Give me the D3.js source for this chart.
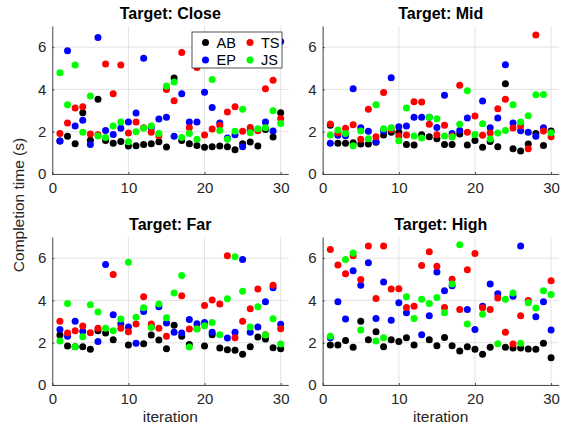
<!DOCTYPE html>
<html>
<head>
<meta charset="utf-8">
<script src="https://d3js.org/d3.v7.min.js"></script>
<style>
body {margin:0; background:white;}
svg {font-family:"Liberation Sans", Arial, sans-serif;}
</style>
</head>
<body>
<svg id="chart" width="570" height="429"></svg>
<script>
// iteration 1..30, completion time in seconds (null = point not visible)
var iterations = d3.range(1, 31);
var seriesNames = ["AB", "EP", "TS", "JS"];
var seriesColors = ["#000000", "#0000ff", "#ff0000", "#00ff00"];
var panelTitles = ["Target: Close", "Target: Mid", "Target: Far", "Target: High"];
var xTicks = [0, 10, 20, 30];
var yTicks = [0, 2, 4, 6];

var closeAB = [1.56, 1.78, 1.43, 2.9, 1.6, 3.53, 1.59, 1.45, 1.54, 1.32, 1.34, 1.4, 1.43, 1.53, 1.28, 4.54, 1.59, 1.43, 1.35, 1.26, 1.29, 1.32, 1.29, 1.15, 1.43, 1.51, 1.32, 2.11, 1.75, 2.9];
var closeEP = [1.56, 5.83, 2.27, 2.54, 1.39, 6.46, 2.06, 1.87, 2.16, 2.46, 2.88, 5.48, 2.19, 2.6, 2.68, 1.78, 3.8, 2.46, 2.46, 3.87, 3.15, 2.41, 1.7, 1.86, 1.29, 2.1, null, 2.46, 2.03, 6.27];
var closeTS = [1.92, 2.41, 3.12, 3.18, 1.89, 1.86, 5.2, 3.8, 5.15, 1.94, 2.46, 2.19, 1.98, 1.81, 4.0, 3.46, 5.75, 2.19, 5.04, 1.84, 2.13, 2.3, 2.93, 3.18, 2.02, 2.2, 2.05, 4.03, 4.43, 2.63];
var closeJS = [4.79, 3.28, 5.15, 1.97, 3.69, 1.8, 1.73, 2.27, 2.46, 1.53, 2.0, 2.16, 2.27, 1.92, 4.16, 4.35, 1.73, 1.92, 1.64, null, 4.47, 2.06, 1.64, 2.02, 3.06, 1.95, 2.14, 2.19, 2.99, 2.39];

var midAB = [2.3, 1.45, 1.45, 1.48, 1.42, 1.42, 1.5, 1.84, 1.98, 1.97, 1.4, 1.37, 1.86, 1.76, 1.67, 1.39, 1.4, 1.89, 1.37, 1.59, 1.26, 1.54, 1.29, 4.27, 1.2, 1.09, 1.42, 1.91, 1.35, 2.03];
var midEP = [1.45, 1.83, 1.81, 4.03, 2.19, 2.02, 1.53, 2.05, 4.55, 2.24, 2.27, 2.69, 2.69, 2.68, 2.2, 3.73, 1.91, 2.06, 2.65, null, 3.45, 2.19, 2.65, 5.17, 2.41, 2.05, 1.98, 1.78, 2.19, null];
var midTS = [2.36, 1.94, 2.16, 2.33, 1.64, 3.06, 1.76, 3.86, 2.11, 1.8, 1.84, 3.42, 3.4, 2.35, 1.86, 2.31, 1.8, 4.2, 1.98, 2.74, 1.83, 1.94, 3.09, 3.54, 2.17, 2.28, 1.2, 6.58, 2.03, 1.76];
var midJS = [1.84, 2.08, 1.92, 1.34, 2.03, 1.67, 3.28, 2.14, 2.19, 1.57, 3.12, 1.8, 1.7, 2.69, 2.61, 1.8, 1.75, 2.35, 3.94, 1.87, 2.38, 1.65, 1.94, 2.06, 3.28, 2.46, 2.76, 3.75, 3.76, 1.95];

var farAB = [2.36, 1.84, 1.81, 1.81, 1.69, 2.57, 2.46, 2.14, null, 1.89, null, 1.95, 2.36, 2.13, 1.72, 2.83, 2.31, 1.91, null, 1.84, 2.38, 1.75, 1.67, 1.64, 1.46, 1.81, 2.27, 2.17, 1.76, 1.72];
var farEP = [2.63, 2.31, 3.02, 2.54, null, 2.06, 5.7, 3.32, 2.9, 2.74, 1.97, 3.48, 2.79, 3.7, 2.93, 2.5, 2.46, 3.1, 2.9, 2.96, 2.49, null, 2.22, 2.5, 5.94, 2.5, 2.74, 3.94, 4.6, 2.87];
var farTS = [3.02, 2.46, 2.57, 2.79, 2.47, 2.69, null, 5.23, 2.69, 2.52, 2.88, 4.17, 2.88, 2.68, 2.3, null, 4.22, 2.65, 2.66, 3.76, 4.02, 3.83, 6.11, 2.24, 3.02, 3.61, 4.54, 2.38, 4.72, 2.66];
var farJS = [2.08, 3.86, 1.81, 2.28, 3.8, 3.45, 2.69, 2.57, 3.12, 5.8, 3.21, 3.65, 2.72, 3.83, 3.18, 4.35, 5.18, 1.8, 2.65, 2.8, 2.96, 2.38, 4.08, 6.06, 4.43, 2.74, 3.7, 2.36, 3.13, 1.94];

var highAB = [1.89, 1.89, 2.11, 1.78, 3.02, 2.14, 2.52, 1.81, 2.14, 2.06, 2.24, 1.89, null, 2.14, 1.86, 2.25, 1.86, 1.61, 1.81, 1.69, 1.46, 1.78, null, 1.78, 1.75, 1.75, 1.7, 1.69, 1.97, 1.29];
var highEP = [2.24, 3.94, 3.12, 5.4, 4.72, 5.78, 3.15, 4.87, 3.06, 3.89, 3.42, null, 2.38, 3.28, 5.35, 4.46, 4.69, null, 3.57, 2.63, 3.73, 4.78, 4.31, null, 4.2, 6.57, null, 3.23, 3.94, 2.6];
var highTS = [6.41, 5.67, 5.26, 6.11, 4.99, 6.57, 4.09, 6.57, 4.54, 4.55, 3.67, 3.72, 5.65, 6.3, 5.62, 3.67, 5.0, 3.57, 5.45, 6.22, 3.65, 3.57, 4.11, 2.49, 1.94, 3.28, 4.0, null, null, 4.93];
var highJS = [2.31, null, 5.94, 6.24, 2.6, null, 2.08, 2.24, null, null, 4.17, 3.15, 4.06, 3.86, 4.14, 3.42, 4.78, 6.63, 2.88, null, 3.35, null, 1.95, 4.06, 4.35, 1.98, 3.89, 3.64, 4.46, 4.28];

var panelData = [
  [closeAB, closeEP, closeTS, closeJS],
  [midAB, midEP, midTS, midJS],
  [farAB, farEP, farTS, farJS],
  [highAB, highEP, highTS, highJS]
];

var svg = d3.select("#chart");
var pw = 236;
var ph = 148;
var lefts = [52.3, 322.7];
var tops = [26, 237];
var axisColor = "#262626";

var x = d3.scaleLinear().domain([0, 31]).range([0, pw]);
var y = d3.scaleLinear().domain([0, 7]).range([ph, 0]);

panelData.forEach(function(series, p) {
  var g = svg.append("g")
    .attr("transform", "translate(" + lefts[p % 2] + "," + tops[Math.floor(p / 2)] + ")");

  // grid
  g.append("g").selectAll("line").data(xTicks).enter().append("line")
    .attr("x1", function(d) { return x(d); }).attr("x2", function(d) { return x(d); })
    .attr("y1", 0).attr("y2", ph)
    .attr("stroke", "#e3e3e3").attr("stroke-width", 1);
  g.append("g").selectAll("line").data(yTicks).enter().append("line")
    .attr("x1", 0).attr("x2", pw)
    .attr("y1", function(d) { return y(d); }).attr("y2", function(d) { return y(d); })
    .attr("stroke", "#e3e3e3").attr("stroke-width", 1);

  var xAxis = d3.axisBottom(x).tickValues(xTicks).tickFormat(d3.format("d"))
    .tickSizeInner(-2).tickSizeOuter(0).tickPadding(6);
  var yAxis = d3.axisLeft(y).tickValues(yTicks).tickFormat(d3.format("d"))
    .tickSizeInner(-2).tickSizeOuter(0).tickPadding(6);

  var gx = g.append("g").attr("transform", "translate(0," + ph + ")").call(xAxis);
  var gy = g.append("g").call(yAxis);
  [gx, gy].forEach(function(a) {
    a.select(".domain").attr("stroke", axisColor).attr("stroke-width", 0.8);
    a.selectAll(".tick line").attr("stroke", axisColor).attr("stroke-width", 0.8);
    a.selectAll("text").attr("fill", axisColor).style("font-size", "15px")
      .style("font-family", "Liberation Sans, Arial, sans-serif");
  });
  gx.selectAll("text").attr("dy", "0.85em");

  // points, drawn in plot order AB, EP, TS, JS
  series.forEach(function(vals, s) {
    var pts = iterations.map(function(it, i) { return {it: it, v: vals[i]}; })
      .filter(function(d) { return d.v != null; });
    g.append("g").selectAll("circle").data(pts).enter().append("circle")
      .attr("cx", function(d) { return x(d.it); })
      .attr("cy", function(d) { return y(d.v); })
      .attr("r", 3.5)
      .attr("fill", seriesColors[s]);
  });

  g.append("text")
    .attr("x", pw / 2).attr("y", -7)
    .attr("text-anchor", "middle")
    .style("font-size", "16px").style("font-weight", "bold")
    .text(panelTitles[p]);

  if (p >= 2) {
    g.append("text")
      .attr("x", pw / 2).attr("y", ph + 37)
      .attr("text-anchor", "middle")
      .attr("fill", axisColor)
      .style("font-size", "15.5px")
      .text("iteration");
  }

  // legend only in first panel
  if (p == 0) {
    var lg = g.append("g").attr("transform", "translate(" + (192 - lefts[0]) + "," + (32 - tops[0]) + ")");
    lg.append("rect").attr("width", 90).attr("height", 36)
      .attr("fill", "white").attr("stroke", axisColor).attr("stroke-width", 0.8);
    var order = [0, 2, 1, 3];
    order.forEach(function(s, k) {
      var cx = 13.5 + (k % 2) * 44.5;
      var cy = 10.5 + Math.floor(k / 2) * 17.5;
      lg.append("circle").attr("cx", cx).attr("cy", cy).attr("r", 3.5).attr("fill", seriesColors[s]);
      lg.append("text").attr("x", cx + 11).attr("y", cy + 5)
        .attr("fill", "#000").style("font-size", "14.5px")
        .text(seriesNames[s]);
    });
  }
});

svg.append("text")
  .attr("transform", "translate(24,205) rotate(-90)")
  .attr("text-anchor", "middle")
  .attr("fill", axisColor)
  .style("font-size", "15.5px")
  .text("Completion time (s)");
</script>
</body>
</html>
